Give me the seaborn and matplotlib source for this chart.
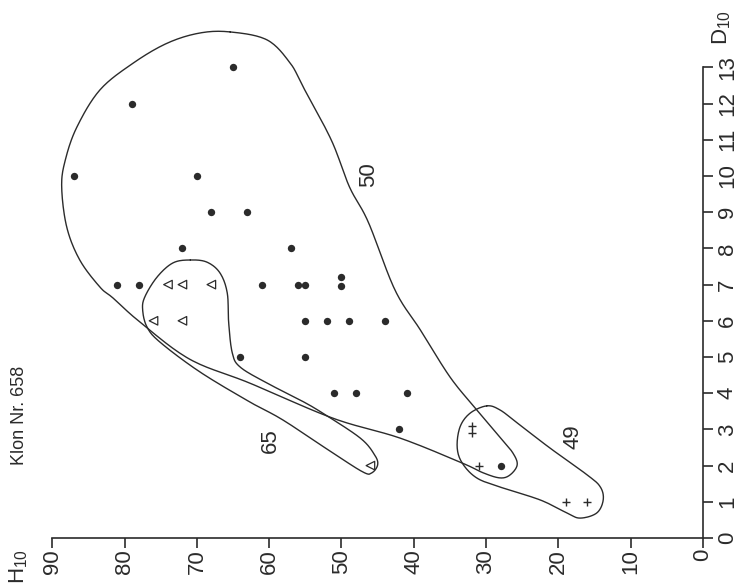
#Klon Nr. 658 - H10 vs D10 scatter with clone outlines (rotated page layout)
import numpy as np
import pandas as pd
import matplotlib
matplotlib.use("Agg")
import matplotlib.pyplot as plt
import seaborn as sns

sns.set_style("ticks")
plt.rcParams['font.family'] = ['Liberation Sans', 'DejaVu Sans']

ink = "#2b2b2b"

# points per clone (H10, D10)
h_50 = [65, 79, 87, 70, 68, 63, 72, 57, 81, 78, 61, 56, 55, 50, 50, 55, 52, 49, 44, 64, 55, 51, 48, 41, 42, 28]
d_50 = [13, 12, 10, 10, 9, 9, 8, 8, 7, 7, 7, 7, 7, 7.2, 6.95, 6, 6, 6, 6, 5, 5, 4, 4, 4, 3, 2]
h_65 = [74, 72, 68, 76, 72, 46]
d_65 = [7, 7, 7, 6, 6, 2]
h_49 = [32, 32, 31, 19, 16]
d_49 = [3.1, 2.9, 2, 1, 1]

# hand drawn outlines (vertices)
out50_h = [65.4, 60.3, 57.1, 55.3, 51.4, 48.9, 46.3, 42.6, 39.1, 35.0, 31.5, 28.1, 26.3, 25.7, 26.7,
           28.1, 30.4, 33.3, 41.9, 51.2, 62.7, 71.0, 77.9, 81.6, 83.4, 86.2, 88.0, 88.7, 88.2, 86.6,
           83.4, 78.8, 74.1, 69.6]
out50_d = [13.98, 13.76, 13.12, 12.46, 10.99, 9.70, 8.73, 6.85, 5.75, 4.45, 3.59, 2.79, 2.35, 2.02, 1.74,
           1.66, 1.80, 2.07, 2.76, 3.31, 4.28, 4.94, 5.97, 6.63, 6.93, 7.68, 8.59, 9.70, 10.44, 11.35,
           12.38, 13.12, 13.67, 13.95]
out65_h = [70.9, 68.6, 66.8, 65.8, 65.6, 65.1, 64.0, 60.3, 55.7, 52.6, 47.4, 45.4, 45.0, 45.8, 47.0,
           51.2, 58.1, 62.7, 69.6, 75.1, 76.9, 77.5, 77.2, 75.5, 73.3]
out65_d = [7.68, 7.62, 7.32, 6.77, 5.94, 5.11, 4.72, 4.28, 3.81, 3.45, 2.76, 2.29, 2.02, 1.80, 1.82,
           2.35, 3.26, 3.76, 4.59, 5.41, 5.83, 6.30, 6.66, 7.21, 7.60]
out49_h = [29.9, 28.1, 25.7, 21.2, 16.0, 14.2, 13.8, 14.7, 17.0, 18.8, 22.5, 28.1, 31.3, 33.3, 34.0, 33.6, 32.2]
out49_d = [3.65, 3.54, 3.18, 2.49, 1.74, 1.41, 1.05, 0.69, 0.55, 0.69, 1.05, 1.41, 1.66, 2.07, 2.51, 3.07, 3.45]

x_ticks = list(range(0, 91, 10))
y_ticks = list(range(0, 14))


def closed_curve(hs, ds, n=16):
    # closed catmull-rom through the outline vertices
    p = np.column_stack([hs, ds])
    m = len(p)
    t = np.linspace(0, 1, n, endpoint=False)[:, None]
    segs = []
    for i in range(m):
        p0, p1, p2, p3 = p[i - 1], p[i], p[(i + 1) % m], p[(i + 2) % m]
        segs.append(0.5 * (2 * p1 + (-p0 + p2) * t + (2 * p0 - 5 * p1 + 4 * p2 - p3) * t ** 2
                           + (-p0 + 3 * p1 - 3 * p2 + p3) * t ** 3))
    c = np.vstack(segs + [p[:1]])
    return c[:, 0], c[:, 1]


fig = plt.figure(figsize=(7.45, 5.86), dpi=100)
ax = fig.add_axes([0, 0, 1, 1])
ax.set_xlim(97.23, -5.81)
ax.set_ylim(-1.326, 14.862)

for hs, ds in [(out50_h, out50_d), (out65_h, out65_d), (out49_h, out49_d)]:
    cx, cy = closed_curve(hs, ds)
    ax.plot(cx, cy, color=ink, lw=1.0)

sns.scatterplot(x=h_50, y=d_50, marker='o', s=28, color=ink, linewidth=0, ax=ax)
sns.scatterplot(x=h_65, y=d_65, marker='<', s=38, facecolors='none', edgecolors=ink, linewidth=0.9, ax=ax)
sns.scatterplot(x=h_49, y=d_49, marker='+', s=40, color=ink, linewidth=1.0, ax=ax)

ax.spines['top'].set_visible(False)
ax.spines['left'].set_visible(False)
ax.spines['bottom'].set_position(('data', 0))
ax.spines['bottom'].set_bounds(0, 90)
ax.spines['right'].set_position(('data', 0))
ax.spines['right'].set_bounds(0, 13)
for s in ['bottom', 'right']:
    ax.spines[s].set_color(ink)
    ax.spines[s].set_linewidth(1.2)

ax.xaxis.set_ticks_position('bottom')
ax.yaxis.tick_right()
ax.set_xticks(x_ticks)
ax.set_yticks(y_ticks)
ax.tick_params(direction='out', length=7, width=1.2, color=ink, labelsize=16, labelcolor=ink, pad=1)
ax.tick_params(axis='y', pad=3)
plt.setp(ax.get_xticklabels(), rotation=90, ha='center', va='top')
plt.setp(ax.get_yticklabels(), rotation=90, ha='left', va='center')

ax.text(94.7, -0.8, "H$_{\\mathregular{10}}$", rotation=90, ha='center', va='center', fontsize=16, color=ink)
ax.text(-2.6, 14.1, "D$_{\\mathregular{10}}$", rotation=90, ha='center', va='center', fontsize=16, color=ink)
ax.text(94.5, 3.4, "Klon Nr. 658", rotation=90, ha='center', va='center', fontsize=13, color=ink)
ax.text(46.2, 10.03, "50", rotation=90, ha='center', va='center', fontsize=16, color=ink)
ax.text(59.9, 2.68, "65", rotation=90, ha='center', va='center', fontsize=16, color=ink)
ax.text(18.0, 2.79, "49", rotation=90, ha='center', va='center', fontsize=16, color=ink)

fig.savefig("out.png", dpi=100, facecolor="white")
